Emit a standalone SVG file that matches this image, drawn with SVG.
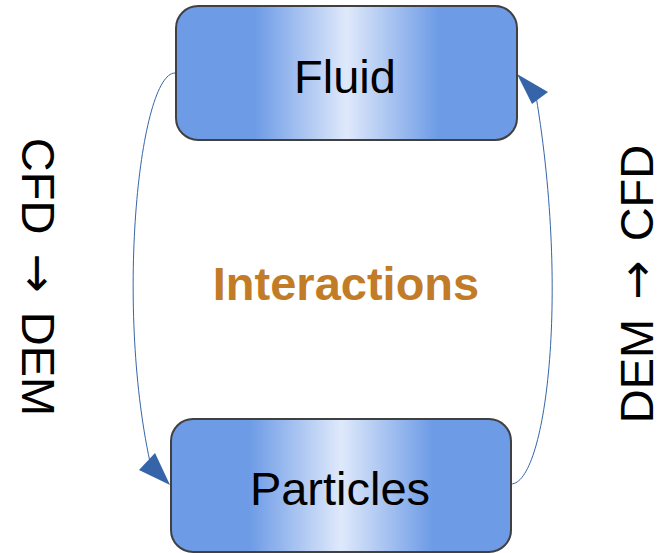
<svg xmlns="http://www.w3.org/2000/svg" width="658" height="553" viewBox="0 0 658 553">
<style>
.box{stroke:#404040;stroke-width:2;fill:url(#g)}
.lbl{font-family:"Liberation Sans",Arial,sans-serif;font-size:47px;fill:#000;text-anchor:middle}
.vert{word-spacing:6px}
.arr{font-family:"DejaVu Sans",sans-serif}
.con{fill:none;stroke:#3565a8;stroke-width:1}
</style>
<defs>
<linearGradient id="g" x1="0" y1="0" x2="1" y2="0">
<stop offset="0" stop-color="#6d9be6"/>
<stop offset="0.23" stop-color="#6d9be6"/>
<stop offset="0.5" stop-color="#dfe9fb"/>
<stop offset="0.77" stop-color="#6d9be6"/>
<stop offset="1" stop-color="#6d9be6"/>
</linearGradient>
</defs>
<g id="connectors">
<path class="con" d="M175,73 C140,73 115,300 150,462"/>
<polygon points="170,485 139,470 155,453" fill="#3565a8"/>
<path class="con" d="M511,484 C545,484 570,300 536,96"/>
<polygon points="517,74 548,92 532,104" fill="#3565a8"/>
</g>
<g id="fluid">
<rect class="box" x="176" y="6" width="341" height="134" rx="22"/>
<text class="lbl" x="345" y="93">Fluid</text>
</g>
<g id="particles">
<rect class="box" x="171" y="419" width="340" height="133" rx="22"/>
<text class="lbl" x="340" y="505">Particles</text>
</g>
<text x="346" y="300" font-family="Liberation Sans,Arial,sans-serif" font-size="47" font-weight="bold" fill="#c27b26" text-anchor="middle">Interactions</text>
<text class="lbl vert" transform="translate(22,277) rotate(90)">CFD <tspan class="arr">→</tspan> DEM</text>
<text class="lbl vert" transform="translate(653,284) rotate(-90)">DEM <tspan class="arr">→</tspan> CFD</text>
</svg>
